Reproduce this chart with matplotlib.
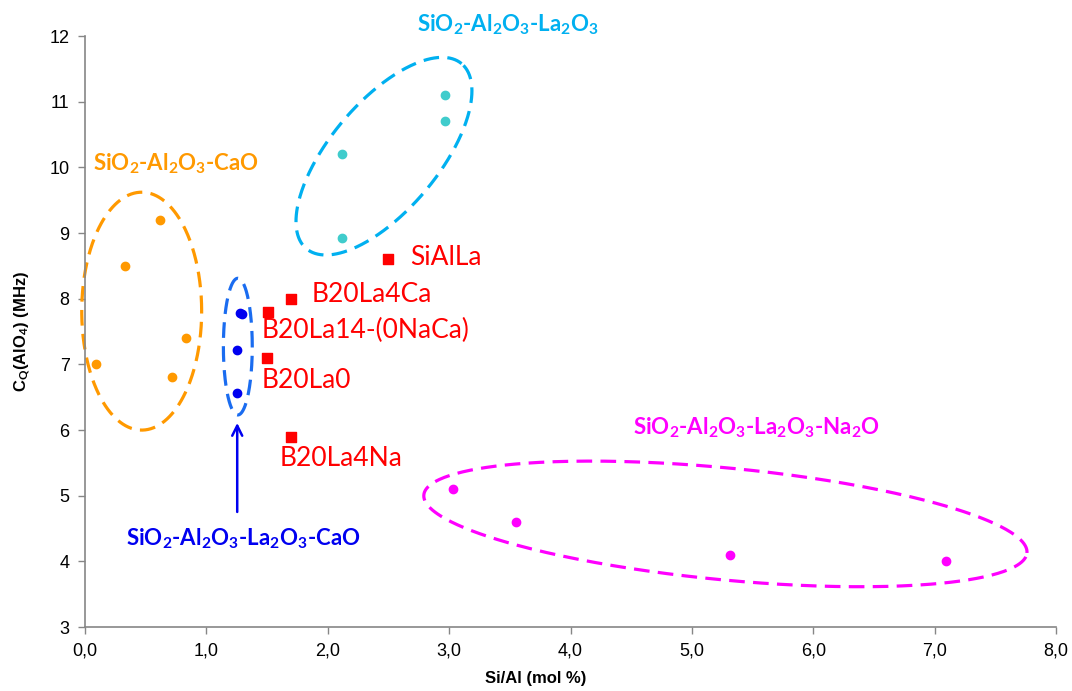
import matplotlib
matplotlib.use("Agg")
import matplotlib.pyplot as plt
import numpy as np

# Si/Al ratio and CQ(AlO4) values
cao_si_al = [0.09, 0.33, 0.62, 0.83, 0.72]
cao_cq = [7.0, 8.5, 9.2, 7.4, 6.8]

la_si_al = [2.97, 2.97, 2.12, 2.12]
la_cq = [11.1, 10.7, 10.2, 8.92]

lacao_si_al = [1.28, 1.29, 1.25, 1.25]
lacao_cq = [7.78, 7.76, 7.22, 6.57]

lana_si_al = [3.03, 3.55, 5.31, 7.09]
lana_cq = [5.1, 4.6, 4.1, 4.0]

glass_names = ["SiAlLa", "B20La4Ca", "B20La14-(0NaCa)", "B20La0", "B20La4Na"]
glass_si_al = [2.50, 1.70, 1.51, 1.50, 1.70]
glass_cq = [8.6, 8.0, 7.8, 7.1, 5.9]

x_ticks = [0, 1, 2, 3, 4, 5, 6, 7, 8]
y_ticks = [3, 4, 5, 6, 7, 8, 9, 10, 11, 12]

ORANGE = "#FF9900"
SKY = "#00B0F0"
TEAL = "#40CCCC"
BLUE = "#0000F0"
BLUE_RING = "#1A6CF0"
MAGENTA = "#FF00FF"
RED = "#FF0000"
GRID_GRAY = "#868686"

plt.rcParams["mathtext.fontset"] = "custom"
plt.rcParams["mathtext.rm"] = "Lato"
plt.rcParams["mathtext.bf"] = "Lato:bold"
plt.rcParams["mathtext.it"] = "Lato:italic"


def ellipse_curve(fig, ax, cx, cy, a, b, angle):
    """Ellipse that looks like (a, b, angle) on screen, a and b in x units."""
    pos = ax.get_position()
    fw, fh = fig.get_size_inches()
    x0, x1 = ax.get_xlim()
    y0, y1 = ax.get_ylim()
    ratio = (pos.height * fh / (y1 - y0)) / (pos.width * fw / (x1 - x0))
    t = np.linspace(0, 2 * np.pi, 400)
    th = np.radians(angle)
    dx = a * np.cos(t) * np.cos(th) - b * np.sin(t) * np.sin(th)
    dy = (a * np.cos(t) * np.sin(th) + b * np.sin(t) * np.cos(th)) / ratio
    return cx + dx, cy + dy


fig = plt.figure(figsize=(10.72, 6.91), dpi=100)
ax = fig.add_axes([0.0793, 0.0926, 0.9058, 0.8553])
ax.set_xlim(0, 8)
ax.set_ylim(3, 12)

ax.set_xticks(x_ticks)
ax.set_xticklabels([f"{v:.1f}".replace(".", ",") for v in x_ticks])
ax.set_yticks(y_ticks)
ax.tick_params(axis="both", direction="out", length=5, width=1, color=GRID_GRAY,
               labelsize=13, pad=6)
for lab in ax.get_xticklabels() + ax.get_yticklabels():
    lab.set_family("Liberation Sans")
for side in ("top", "right"):
    ax.spines[side].set_visible(False)
for side in ("left", "bottom"):
    ax.spines[side].set_color(GRID_GRAY)
    ax.spines[side].set_linewidth(1.2)

ax.set_xlabel("Si/Al (mol %)", fontsize=12, fontweight="bold", family="Liberation Sans")
ax.xaxis.set_label_coords(0.464, -0.074)
ax.set_ylabel(r"C$_{\mathbf{Q}}$(AlO$_{\mathbf{4}}$) (MHz)", fontsize=12,
              fontweight="bold", family="Liberation Sans")
ax.yaxis.set_label_coords(-0.055, 0.5)

dash = (0, (4.9, 2.6))
ring_kw = dict(lw=2.3, linestyle=dash, clip_on=False)

# dashed group outlines
ex, ey = ellipse_curve(fig, ax, 0.467, 7.81, 0.494, 0.98, 0)
ax.plot(ex, ey, color=ORANGE, **ring_kw)
ex, ey = ellipse_curve(fig, ax, 2.463, 10.17, 0.995, 0.445, 50)
ax.plot(ex, ey, color=SKY, **ring_kw)
ex, ey = ellipse_curve(fig, ax, 1.259, 7.27, 0.119, 0.563, 0)
ax.plot(ex, ey, color=BLUE_RING, **ring_kw)
ex, ey = ellipse_curve(fig, ax, 5.276, 4.57, 2.496, 0.461, -5.5)
ax.plot(ex, ey, color=MAGENTA, **ring_kw)

# data points
ax.scatter(cao_si_al, cao_cq, s=36, color=ORANGE, zorder=3)
ax.scatter(la_si_al, la_cq, s=36, color=TEAL, zorder=3)
ax.scatter(lacao_si_al, lacao_cq, s=36, color=BLUE, zorder=3)
ax.scatter(lana_si_al, lana_cq, s=36, color=MAGENTA, zorder=3)
ax.scatter(glass_si_al, glass_cq, s=56, marker="s", color=RED, zorder=3)

# glass labels
label_offsets = {
    "SiAlLa": (0.18, 0.02),
    "B20La4Ca": (0.17, 0.07),
    "B20La14-(0NaCa)": (-0.055, -0.29),
    "B20La0": (-0.045, -0.35),
    "B20La4Na": (-0.10, -0.34),
}
for name, xv, yv in zip(glass_names, glass_si_al, glass_cq):
    dx, dy = label_offsets[name]
    ax.text(xv + dx, yv + dy, name, color=RED, fontsize=19, family="Lato",
            ha="left", va="center")

# group labels
group_kw = dict(fontsize=16, fontweight="bold", family="Lato", ha="center",
                va="center", clip_on=False)
ax.text(0.745, 10.06, r"SiO$_\mathbf{2}$-Al$_\mathbf{2}$O$_\mathbf{3}$-CaO",
        color=ORANGE, **group_kw)
ax.text(3.487, 12.17,
        r"SiO$_\mathbf{2}$-Al$_\mathbf{2}$O$_\mathbf{3}$-La$_\mathbf{2}$O$_\mathbf{3}$",
        color=SKY, **group_kw)
ax.text(1.307, 4.34,
        r"SiO$_\mathbf{2}$-Al$_\mathbf{2}$O$_\mathbf{3}$-La$_\mathbf{2}$O$_\mathbf{3}$-CaO",
        color=BLUE, **group_kw)
ax.text(5.53, 6.04,
        r"SiO$_\mathbf{2}$-Al$_\mathbf{2}$O$_\mathbf{3}$-La$_\mathbf{2}$O$_\mathbf{3}$-Na$_\mathbf{2}$O",
        color=MAGENTA, **group_kw)

ax.annotate("", xy=(1.254, 6.15), xytext=(1.254, 4.71),
            arrowprops=dict(arrowstyle="->", color=BLUE, lw=1.8,
                            mutation_scale=18))

fig.savefig("out.png", dpi=100, facecolor="white")
plt.close(fig)
